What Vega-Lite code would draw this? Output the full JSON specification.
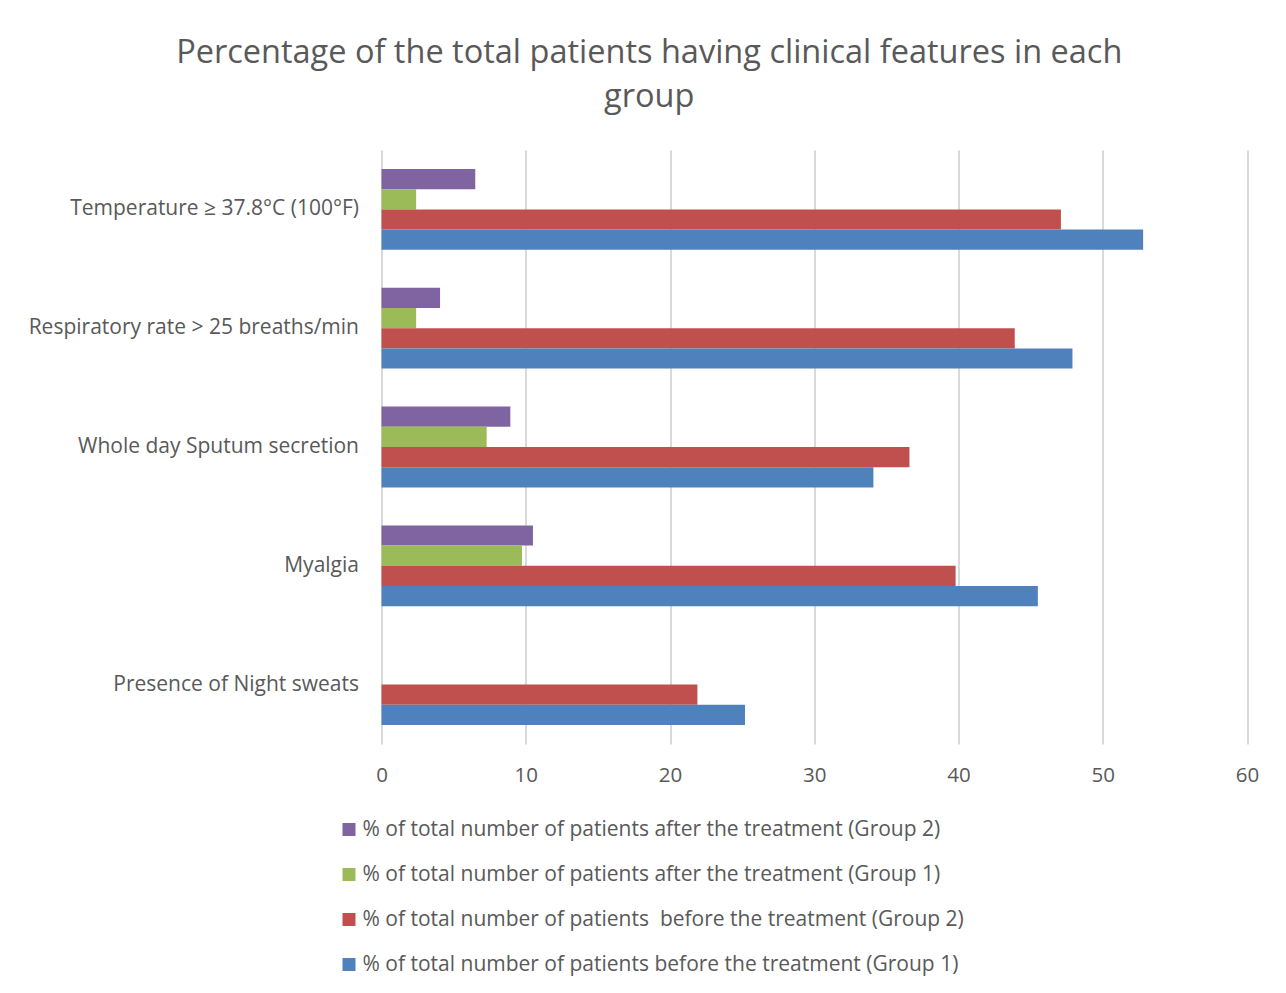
{
  "$schema": "https://vega.github.io/schema/vega-lite/v6.json",
  "autosize": "none",
  "width": 865.5,
  "height": 594,
  "padding": {"left": 381.5, "top": 150, "right": 39, "bottom": 249},
  "background": "white",
  "title": {
    "text": ["Percentage of the total patients having clinical features in each", "group"],
    "anchor": "middle",
    "dx": -165,
    "offset": 37,
    "font": "Open Sans",
    "fontSize": 32.5,
    "fontWeight": "normal",
    "color": "#595959",
    "lineHeight": 44
  },
  "data": {
    "values": [
      {"feature": "Temperature ≥ 37.8°C (100°F)", "series": "% of total number of patients after the treatment (Group 2)", "value": 6.5},
      {"feature": "Temperature ≥ 37.8°C (100°F)", "series": "% of total number of patients after the treatment (Group 1)", "value": 2.4},
      {"feature": "Temperature ≥ 37.8°C (100°F)", "series": "% of total number of patients  before the treatment (Group 2)", "value": 47.1},
      {"feature": "Temperature ≥ 37.8°C (100°F)", "series": "% of total number of patients before the treatment (Group 1)", "value": 52.8},
      {"feature": "Respiratory rate > 25 breaths/min", "series": "% of total number of patients after the treatment (Group 2)", "value": 4.06},
      {"feature": "Respiratory rate > 25 breaths/min", "series": "% of total number of patients after the treatment (Group 1)", "value": 2.4},
      {"feature": "Respiratory rate > 25 breaths/min", "series": "% of total number of patients  before the treatment (Group 2)", "value": 43.9},
      {"feature": "Respiratory rate > 25 breaths/min", "series": "% of total number of patients before the treatment (Group 1)", "value": 47.9},
      {"feature": "Whole day Sputum secretion", "series": "% of total number of patients after the treatment (Group 2)", "value": 8.93},
      {"feature": "Whole day Sputum secretion", "series": "% of total number of patients after the treatment (Group 1)", "value": 7.29},
      {"feature": "Whole day Sputum secretion", "series": "% of total number of patients  before the treatment (Group 2)", "value": 36.6},
      {"feature": "Whole day Sputum secretion", "series": "% of total number of patients before the treatment (Group 1)", "value": 34.1},
      {"feature": "Myalgia", "series": "% of total number of patients after the treatment (Group 2)", "value": 10.5},
      {"feature": "Myalgia", "series": "% of total number of patients after the treatment (Group 1)", "value": 9.74},
      {"feature": "Myalgia", "series": "% of total number of patients  before the treatment (Group 2)", "value": 39.8},
      {"feature": "Myalgia", "series": "% of total number of patients before the treatment (Group 1)", "value": 45.5},
      {"feature": "Presence of Night sweats", "series": "% of total number of patients after the treatment (Group 2)", "value": 0},
      {"feature": "Presence of Night sweats", "series": "% of total number of patients after the treatment (Group 1)", "value": 0},
      {"feature": "Presence of Night sweats", "series": "% of total number of patients  before the treatment (Group 2)", "value": 21.9},
      {"feature": "Presence of Night sweats", "series": "% of total number of patients before the treatment (Group 1)", "value": 25.2}
    ]
  },
  "mark": {"type": "bar"},
  "encoding": {
    "y": {
      "field": "feature",
      "type": "nominal",
      "sort": ["Temperature ≥ 37.8°C (100°F)", "Respiratory rate > 25 breaths/min", "Whole day Sputum secretion", "Myalgia", "Presence of Night sweats"],
      "scale": {"paddingInner": 0.32, "paddingOuter": 0.16},
      "axis": {"title": null, "domain": false, "ticks": false, "labelFont": "Open Sans", "labelFontSize": 21, "labelColor": "#595959", "labelPadding": 23, "labelLimit": 500}
    },
    "yOffset": {
      "field": "series",
      "type": "nominal",
      "sort": ["% of total number of patients after the treatment (Group 2)", "% of total number of patients after the treatment (Group 1)", "% of total number of patients  before the treatment (Group 2)", "% of total number of patients before the treatment (Group 1)"],
      "scale": {"paddingInner": 0, "paddingOuter": 0}
    },
    "x": {
      "field": "value",
      "type": "quantitative",
      "scale": {"domain": [0, 60], "nice": false},
      "axis": {"title": null, "values": [0, 10, 20, 30, 40, 50, 60], "domain": false, "ticks": false, "grid": true, "gridColor": "#d9d9d9", "gridWidth": 2, "labelFont": "Open Sans", "labelFontSize": 20.5, "labelColor": "#595959", "labelPadding": 21, "labelFlush": false}
    },
    "color": {
      "field": "series",
      "type": "nominal",
      "scale": {
        "domain": ["% of total number of patients after the treatment (Group 2)", "% of total number of patients after the treatment (Group 1)", "% of total number of patients  before the treatment (Group 2)", "% of total number of patients before the treatment (Group 1)"],
        "range": ["#8064A2", "#9BBB59", "#C0504D", "#4F81BD"]
      },
      "legend": {"title": null, "orient": "none", "legendX": -43, "legendY": 669, "direction": "vertical", "symbolType": "square", "symbolSize": 169, "symbolStrokeWidth": 0, "labelFont": "Open Sans", "labelFontSize": 21, "labelColor": "#595959", "rowPadding": 23, "labelLimit": 800, "labelOffset": 3, "labelExpr": "replace(datum.label, '  ', '\u00a0 ')"}
    }
  },
  "config": {"view": {"stroke": null}}
}
